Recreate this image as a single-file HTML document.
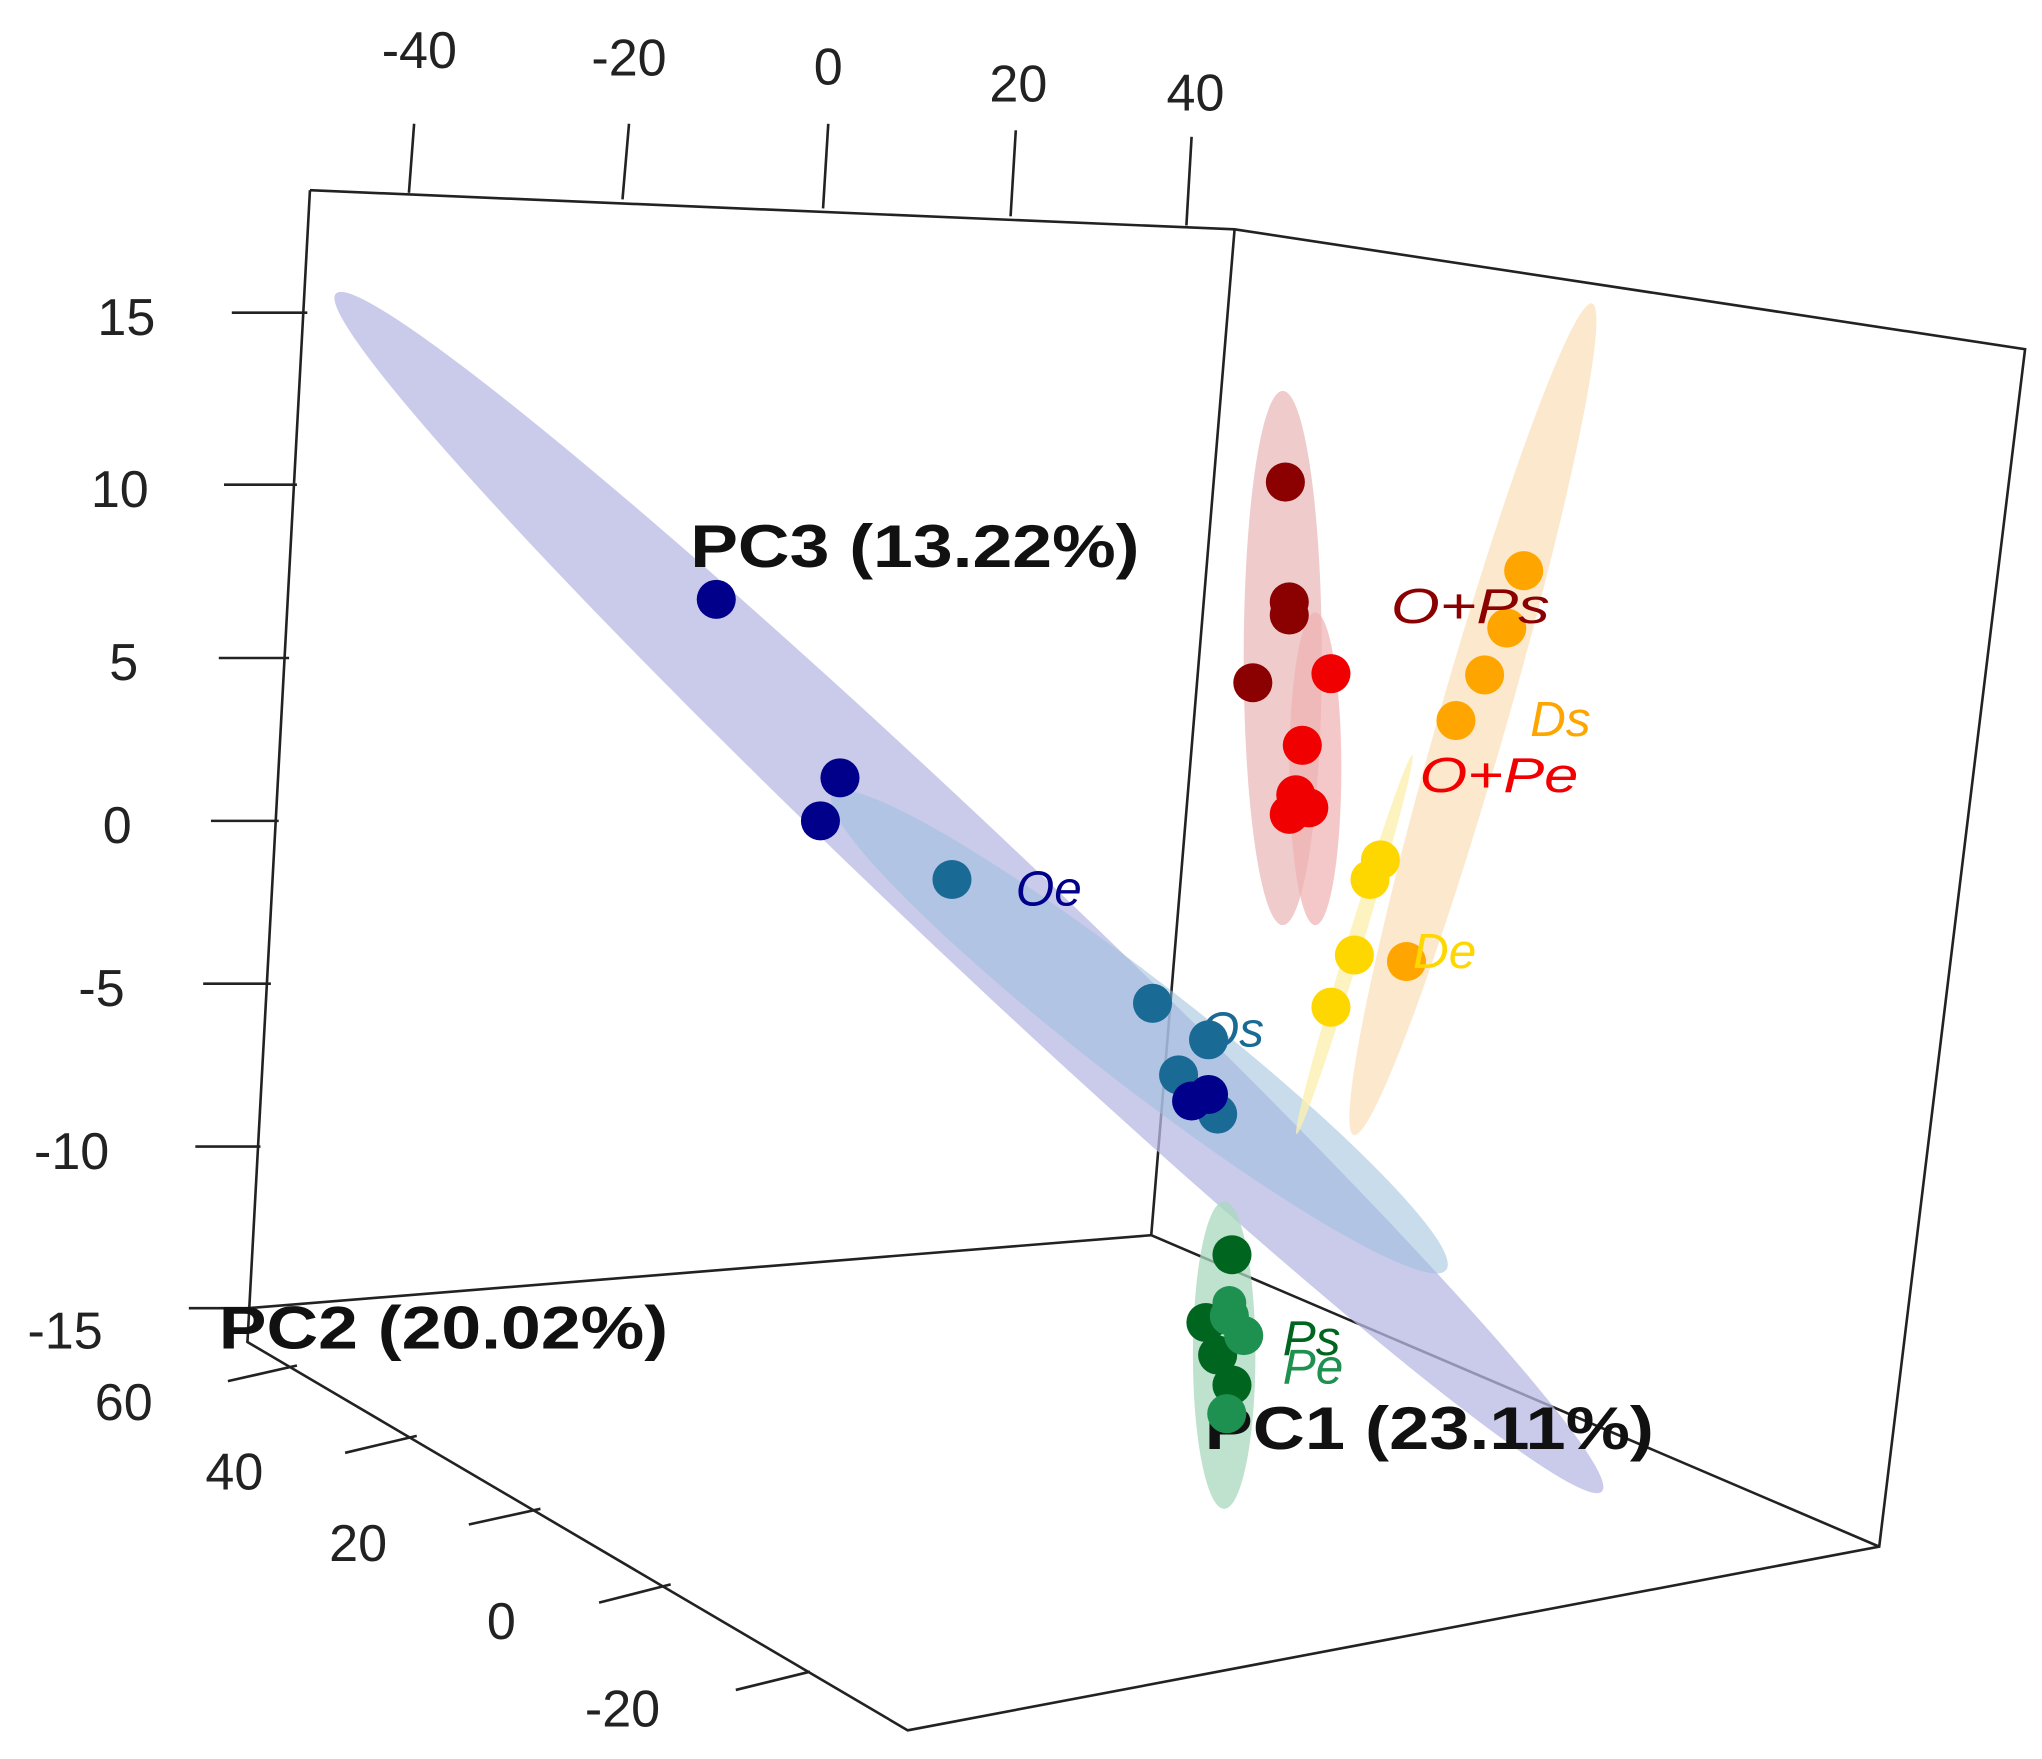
<!DOCTYPE html>
<html><head><style>html,body{margin:0;padding:0;background:#fff}svg{display:block}</style></head><body>
<svg width="2042" height="1759" viewBox="0 0 1568 1350" preserveAspectRatio="none" xmlns="http://www.w3.org/2000/svg" font-family="Liberation Sans, sans-serif">
<g stroke="#222" stroke-width="2" fill="none">
<polyline points="238,146 948,176 1555,268 1443,1187 697,1328 190,1030 238,146"/>
<polyline points="948,176 884,948 1443,1187"/>
<line x1="884" y1="948" x2="190" y2="1004"/>
<line x1="318" y1="95" x2="314" y2="148"/><line x1="483" y1="95" x2="478" y2="153"/><line x1="636" y1="95" x2="632" y2="160"/><line x1="780" y1="100" x2="776" y2="166"/><line x1="915" y1="105" x2="911" y2="173"/>
<line x1="178" y1="240" x2="236" y2="240"/><line x1="172" y1="372" x2="228" y2="372"/><line x1="168" y1="505" x2="222" y2="505"/><line x1="162" y1="630" x2="214" y2="630"/><line x1="156" y1="755" x2="208" y2="755"/><line x1="150" y1="880" x2="200" y2="880"/><line x1="145" y1="1004" x2="192" y2="1004"/>
<line x1="175" y1="1060" x2="228" y2="1048"/><line x1="265" y1="1115" x2="320" y2="1102"/><line x1="360" y1="1170" x2="415" y2="1158"/><line x1="460" y1="1230" x2="515" y2="1216"/><line x1="565" y1="1297" x2="622" y2="1283"/>
</g>
<g font-size="40" fill="#222" text-anchor="middle">
<text x="322" y="52">-40</text><text x="483" y="58">-20</text><text x="636" y="65">0</text><text x="782" y="78">20</text><text x="918" y="85">40</text>
<text x="97" y="257">15</text><text x="92" y="389">10</text><text x="95" y="522">5</text><text x="90" y="647">0</text><text x="78" y="772">-5</text><text x="55" y="897">-10</text><text x="50" y="1035">-15</text>
<text x="95" y="1090">60</text><text x="180" y="1143">40</text><text x="275" y="1198">20</text><text x="385" y="1258">0</text><text x="478" y="1325">-20</text>
</g>
<g>
<ellipse cx="744" cy="685" rx="669" ry="48" transform="rotate(43.4 744 685)" fill="#b8b8e4" opacity="0.75"/>
<ellipse cx="875" cy="792" rx="298" ry="40" transform="rotate(37.8 875 792)" fill="#9cc0dc" opacity="0.55"/>
<ellipse cx="985" cy="505" rx="30" ry="205" fill="#e8b5b5" opacity="0.7"/>
<ellipse cx="1010" cy="590" rx="20" ry="120" fill="#f0b0b0" opacity="0.7"/>
<ellipse cx="1131" cy="552" rx="26" ry="332" transform="rotate(16 1131 552)" fill="#fbe3c0" opacity="0.8"/>
<ellipse cx="1040" cy="725" rx="6" ry="152" transform="rotate(17 1040 725)" fill="#fbf0b0" opacity="0.8"/>
<ellipse cx="940" cy="1040" rx="24" ry="118" fill="#a8d8bc" opacity="0.75"/>
</g>
<g font-weight="bold" font-size="46" fill="#111">
<text x="530" y="435" textLength="345" lengthAdjust="spacingAndGlyphs">PC3 (13.22%)</text><text x="168" y="1035" textLength="345" lengthAdjust="spacingAndGlyphs">PC2 (20.02%)</text><text x="925" y="1112" textLength="345" lengthAdjust="spacingAndGlyphs">PC1 (23.11%)</text>
</g>
<g>
<g fill="#00008b"><circle cx="550" cy="460" r="15"/><circle cx="645" cy="597" r="15"/><circle cx="630" cy="630" r="15"/></g>
<g fill="#1a6a96"><circle cx="731" cy="675" r="15"/><circle cx="885" cy="770" r="15"/><circle cx="928" cy="798" r="15"/><circle cx="905" cy="825" r="15"/><circle cx="935" cy="855" r="15"/></g>
<g fill="#00008b"><circle cx="915" cy="845" r="15"/><circle cx="928" cy="840" r="15"/></g>
<g fill="#8b0000"><circle cx="987" cy="370" r="15"/><circle cx="990" cy="462" r="15"/><circle cx="990" cy="472" r="15"/><circle cx="962" cy="524" r="15"/></g>
<g fill="#f00000"><circle cx="1022" cy="517" r="15"/><circle cx="1000" cy="572" r="15"/><circle cx="995" cy="610" r="15"/><circle cx="1005" cy="620" r="15"/><circle cx="990" cy="625" r="15"/></g>
<g fill="#ffa500"><circle cx="1170" cy="438" r="15"/><circle cx="1157" cy="482" r="15"/><circle cx="1140" cy="518" r="15"/><circle cx="1118" cy="553" r="15"/><circle cx="1080" cy="738" r="15"/></g>
<g fill="#ffd700"><circle cx="1060" cy="660" r="15"/><circle cx="1052" cy="675" r="15"/><circle cx="1040" cy="733" r="15"/><circle cx="1022" cy="773" r="15"/></g>
<g fill="#00651f"><circle cx="946" cy="963" r="15"/><circle cx="926" cy="1015" r="15"/><circle cx="935" cy="1040" r="15"/><circle cx="946" cy="1063" r="15"/></g>
<g fill="#1e9050"><circle cx="944" cy="1010" r="15"/><circle cx="955" cy="1025" r="15"/><circle cx="942" cy="1085" r="15"/><circle cx="944" cy="1000" r="13"/></g>
</g>
<g font-style="italic" font-size="38">
<text x="780" y="695" fill="#00008b">Oe</text><text x="922" y="803" fill="#1a6a96">Os</text>
<text x="1068" y="478" fill="#8b0000" textLength="122" lengthAdjust="spacingAndGlyphs">O+Ps</text><text x="1175" y="565" fill="#ffa500">Ds</text>
<text x="1090" y="608" fill="#f00000" textLength="122" lengthAdjust="spacingAndGlyphs">O+Pe</text><text x="1085" y="743" fill="#ffd700">De</text>
<text x="985" y="1040" fill="#00651f">Ps</text><text x="985" y="1062" fill="#1e9050">Pe</text>
</g>
</svg>
</body></html>
